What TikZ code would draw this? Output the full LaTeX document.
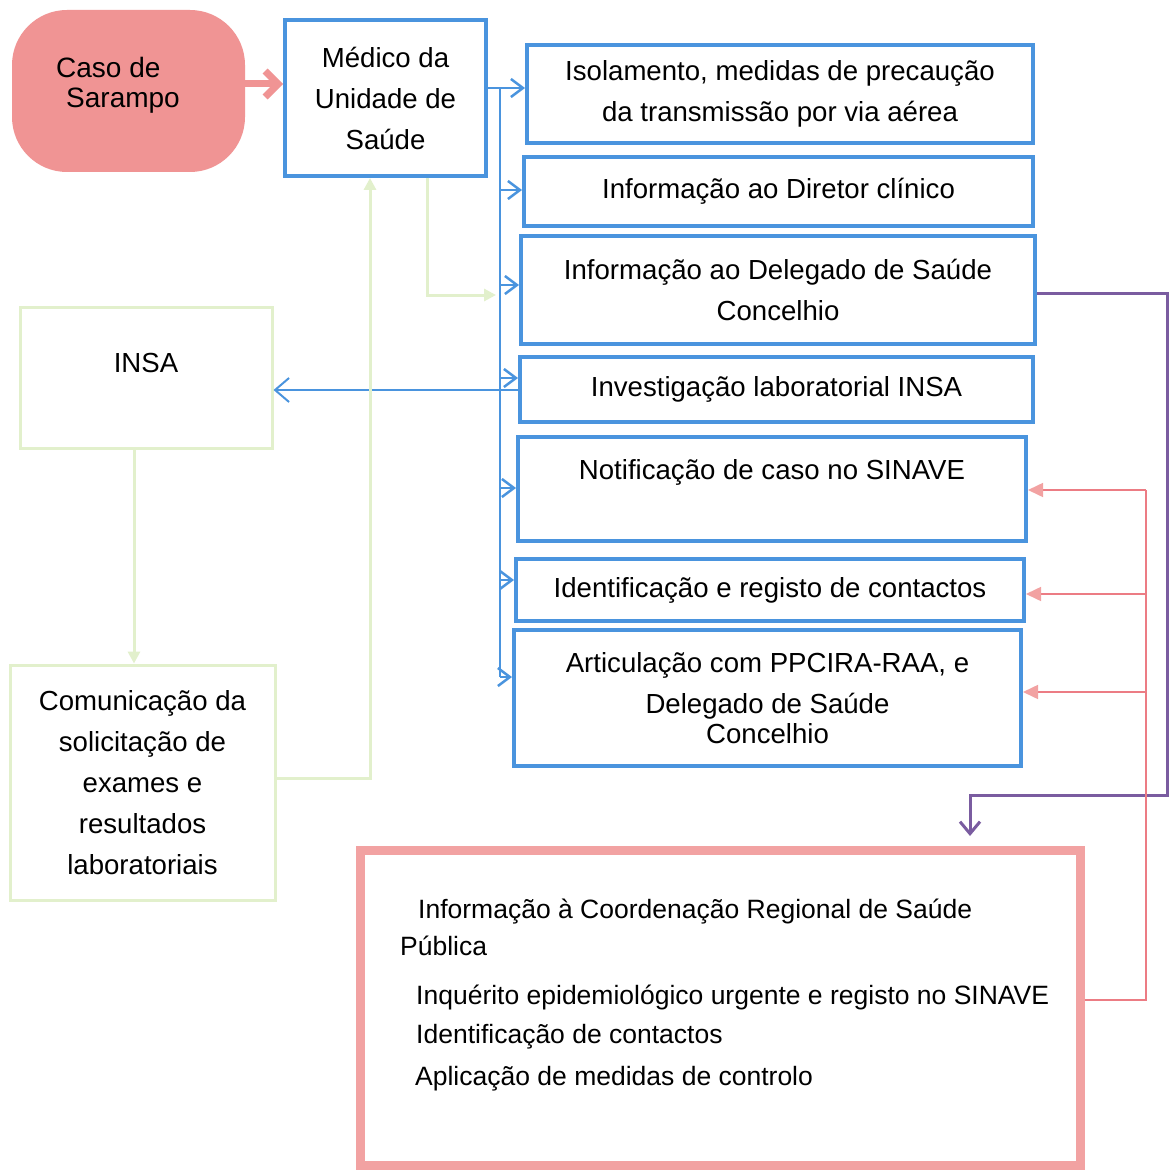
\documentclass[tikz,border=0pt]{standalone}
\usepackage{fontspec}
\setmainfont{Liberation Sans}
\usetikzlibrary{arrows.meta}
\definecolor{cblue}{RGB}{74,148,222}
\definecolor{cpinkfill}{RGB}{240,148,148}
\definecolor{cpink}{RGB}{242,162,162}
\definecolor{cpinkline}{RGB}{236,124,132}
\definecolor{cgreen}{RGB}{226,240,204}
\definecolor{cpurple}{RGB}{122,92,160}
\tikzset{
  bluebox/.style={draw=cblue, line width=4pt, inner sep=0pt, align=center, fill=white},
  greenbox/.style={draw=cgreen, line width=3pt, inner sep=0pt, align=center},
  bluearrow/.style={draw=cblue, line width=2.5pt, -{Straight Barb[length=12pt,width=18pt]}},
  blueline/.style={draw=cblue, line width=2.5pt},
  greenarrow/.style={draw=cgreen, line width=3pt, -{Triangle[length=12pt,width=12pt]}},
  pinkarrow/.style={draw=cpinkline, line width=1.6pt, -{Triangle[length=15pt,width=14pt,fill=cpink,color=cpink]}},
  purplearrow/.style={draw=cpurple, line width=3pt, -{Straight Barb[length=12pt,width=20pt]}},
  bottomtext/.style={anchor=west, inner sep=0pt, font=\fontsize{26.5}{30}\selectfont, text height=19pt, text depth=6pt},
}
\begin{document}
\begin{tikzpicture}[x=1pt,y=-1pt, font=\fontsize{27.6}{41}\selectfont]
\useasboundingbox[fill=white] (0,0) rectangle (1170,1174);

% nodes
\node[fill=cpinkfill, rounded corners=55pt, minimum width=233pt, minimum height=162pt, inner sep=0pt] (caso) at (128.5,91) {};
\node[anchor=west, align=left, inner sep=0pt, font=\fontsize{28}{30}\selectfont] (casotext) at (56,85) {Caso de\\\hspace*{10pt}Sarampo};

\node[bluebox, minimum width=201pt, minimum height=156pt] (medico) at (385.5,98) {Médico da\\Unidade de\\Saúde};

\node[bluebox, minimum width=506pt, minimum height=98pt] (b1) at (780,94) {Isolamento, medidas de precaução\\da transmissão por via aérea};
\node[bluebox, minimum width=509pt, minimum height=69pt] (b2) at (778.5,191.5) {Informação ao Diretor clínico};
\node[bluebox, minimum width=514pt, minimum height=108pt] (b3) at (778,290) {Informação ao Delegado de Saúde\\Concelhio};
\node[bluebox, minimum width=513pt, minimum height=65pt] (b4) at (776.5,389.5) {Investigação laboratorial INSA};
\node[bluebox, minimum width=508pt, minimum height=104pt] (b5) at (772,489) {};
\node (b5text) at (772,472) {Notificação de caso no SINAVE};
\node[bluebox, minimum width=508pt, minimum height=62pt] (b6) at (770,590) {Identificação e registo de contactos};
\node[bluebox, minimum width=507pt, minimum height=136pt] (b7) at (767.5,698) {Articulação com PPCIRA-RAA, e\\Delegado de Saúde\\[-11pt]Concelhio};

\node[greenbox, minimum width=252pt, minimum height=141pt] (insa) at (146,377.5) {};
\node (insatext) at (146,363) {INSA};
\node[greenbox, minimum width=265pt, minimum height=235pt] (com) at (142.5,782.5) {Comunicação da\\solicitação de\\exames e\\resultados\\laboratoriais};

\node[draw=cpink, line width=9pt, minimum width=720pt, minimum height=315pt, inner sep=0pt] (bot) at (720,1007.5) {};
\node[bottomtext] (t1) at (418,912) {Informação à Coordenação Regional de Saúde};
\node[bottomtext] (t2) at (400,949) {Pública};
\node[bottomtext] (t3) at (416,998) {Inquérito epidemiológico urgente e registo no SINAVE};
\node[bottomtext] (t4) at (416,1037) {Identificação de contactos};
\node[bottomtext] (t5) at (415,1079) {Aplicação de medidas de controlo};

% caso -> medico
\coordinate (cy) at (0,84);
\draw[draw=cpinkfill, line width=7pt, -{Straight Barb[length=13pt,width=26pt]}] (caso.east |- cy) -- (medico.west |- cy);

% blue trunk
\coordinate (tr1) at (500,88);
\coordinate (tr2) at (500,190);
\coordinate (tr3) at (500,285);
\coordinate (tr4) at (500,378);
\coordinate (tr5) at (500,488);
\coordinate (tr6) at (500,580);
\coordinate (tr7) at (500,677);
\draw[blueline] (medico.east |- tr1) -- (tr1) -- (tr7);
\draw[bluearrow] (tr1) -- (b1.west |- tr1);
\draw[bluearrow] (tr2) -- (b2.west |- tr2);
\draw[bluearrow] (tr3) -- (b3.west |- tr3);
\draw[bluearrow] (tr4) -- (b4.west |- tr4);
\draw[bluearrow] (tr5) -- (b5.west |- tr5);
\draw[bluearrow] (tr6) -- (b6.west |- tr6);
\draw[bluearrow] (tr7) -- (b7.west |- tr7);

% INSA arrow
\coordinate (iy) at (0,390);
\draw[draw=cblue, line width=2pt, -{Straight Barb[length=14pt,width=24pt]}] (b4.west |- iy) -- (insa.east |- iy);

% green connectors
\coordinate (gx) at (134,0);
\draw[greenarrow] (insa.south -| gx) -- (com.north -| gx);
\coordinate (g1) at (370,778);
\coordinate (g2) at (370,0);
\draw[greenarrow] (com.east |- g1) -- (g1) -- (medico.south -| g2);
\coordinate (g3) at (427,295);
\coordinate (g4) at (496,295);
\draw[greenarrow] (medico.south -| g3) -- (g3) -- (g4);

% purple
\coordinate (p1) at (1167,293);
\coordinate (p2) at (1167,795);
\coordinate (p3) at (970,795);
\coordinate (p4) at (970,836);
\draw[purplearrow] (b3.east |- p1) -- (p1) -- (p2) -- (p3) -- (p4);

% pink feedback
\coordinate (k0) at (1146,1000);
\coordinate (k5) at (1146,490);
\coordinate (k6) at (1146,594);
\coordinate (k7) at (1146,692);
\draw[draw=cpinkline, line width=1.6pt] (bot.east |- k0) -- (k0) -- (k5);
\draw[pinkarrow] (k5) -- (b5.east |- k5);
\draw[pinkarrow] (k6) -- (b6.east |- k6);
\draw[pinkarrow] (k7) -- (b7.east |- k7);
\end{tikzpicture}
\end{document}
